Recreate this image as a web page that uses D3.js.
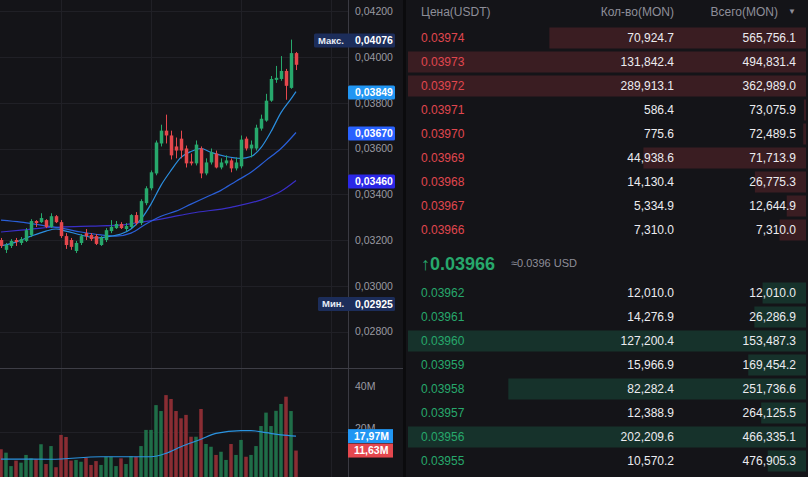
<!DOCTYPE html>
<html>
<head>
<meta charset="utf-8">
<script src="https://cdn.jsdelivr.net/npm/d3@7"></script>
<style>
  body { margin: 0; background: #141418; }
  svg { display: block; font-family: "Liberation Sans", Arial, sans-serif; }
</style>
</head>
<body>
<svg width="808" height="477"></svg>
<script>
// candles (oldest -> newest)
var opens  = [0.03200,0.03157,0.03174,0.03200,0.03187,0.03196,0.03222,0.03283,0.03278,0.03287,0.03257,0.03304,0.03278,0.03217,0.03200,0.03152,0.03187,0.03230,0.03222,0.03217,0.03178,0.03200,0.03239,0.03252,0.03270,0.03248,0.03257,0.03309,0.03274,0.03361,0.03426,0.03491,0.03622,0.03678,0.03657,0.03609,0.03643,0.03600,0.03543,0.03535,0.03600,0.03491,0.03539,0.03578,0.03517,0.03535,0.03548,0.03513,0.03522,0.03643,0.03600,0.03600,0.03687,0.03722,0.03809,0.03900,0.03904,0.03939,0.03865,0.04017];
var highs  = [0.03209,0.03187,0.03204,0.03209,0.03213,0.03252,0.03291,0.03287,0.03317,0.03291,0.03317,0.03309,0.03287,0.03230,0.03209,0.03196,0.03226,0.03248,0.03230,0.03226,0.03217,0.03252,0.03287,0.03283,0.03278,0.03274,0.03313,0.03322,0.03378,0.03435,0.03504,0.03635,0.03704,0.03748,0.03678,0.03648,0.03678,0.03613,0.03578,0.03635,0.03609,0.03557,0.03600,0.03591,0.03557,0.03570,0.03557,0.03561,0.03657,0.03652,0.03635,0.03704,0.03748,0.03839,0.03917,0.03961,0.04004,0.03948,0.04076,0.04022];
var lows   = [0.03165,0.03143,0.03165,0.03174,0.03178,0.03191,0.03213,0.03257,0.03274,0.03252,0.03252,0.03274,0.03209,0.03161,0.03157,0.03143,0.03178,0.03200,0.03196,0.03178,0.03174,0.03191,0.03230,0.03248,0.03248,0.03239,0.03252,0.03265,0.03265,0.03352,0.03417,0.03483,0.03609,0.03622,0.03552,0.03557,0.03557,0.03517,0.03526,0.03526,0.03470,0.03483,0.03530,0.03513,0.03509,0.03526,0.03496,0.03504,0.03513,0.03591,0.03561,0.03591,0.03678,0.03717,0.03804,0.03887,0.03896,0.03813,0.03861,0.03943];
var closes = [0.03174,0.03178,0.03196,0.03191,0.03204,0.03243,0.03283,0.03274,0.03296,0.03257,0.03304,0.03278,0.03217,0.03178,0.03170,0.03187,0.03217,0.03217,0.03204,0.03183,0.03209,0.03243,0.03257,0.03270,0.03252,0.03261,0.03309,0.03274,0.03370,0.03426,0.03496,0.03626,0.03678,0.03657,0.03570,0.03591,0.03591,0.03535,0.03535,0.03617,0.03491,0.03539,0.03583,0.03517,0.03539,0.03548,0.03513,0.03539,0.03639,0.03600,0.03617,0.03691,0.03730,0.03809,0.03904,0.03909,0.03939,0.03874,0.04017,0.03966];
// volume, millions
var volumes = [12.2,10.7,4.8,7.2,6.3,9.7,8.2,7.8,14.4,5.7,13.6,4.3,18.5,17.6,7.2,7.5,6.7,8.5,5.3,7.0,5.3,8.9,8.9,4.8,8.2,5.7,9.2,8.9,13.6,20.7,20.7,31.6,29.0,36.0,34.3,29.0,25.8,27.3,17.7,17.7,29.9,14.5,13.3,9.7,11.1,7.5,14.5,9.7,16.3,8.9,9.7,13.6,22.4,28.3,22.4,29.1,32.1,35.3,29.0,11.63];

// moving averages (candle index, value)
var ma7Idx = [0,3,6,9,11,13,16,19,22,24,26,28,30,32,34,36,38,40,42,45,48,50,52,54,56,58,59];
var ma7Val = [0.03174,0.03191,0.03217,0.03239,0.03248,0.03239,0.03222,0.03209,0.03217,0.03226,0.03248,0.03291,0.03357,0.03439,0.03504,0.03561,0.03587,0.03600,0.03583,0.03565,0.03557,0.03565,0.03604,0.03674,0.03757,0.03817,0.03849];
var ma25Idx = [0,4,8,12,16,20,23,26,29,32,35,38,41,44,47,50,53,56,59];
var ma25Val = [0.03287,0.03278,0.03265,0.03252,0.03235,0.03222,0.03217,0.03230,0.03270,0.03304,0.03326,0.03357,0.03387,0.03417,0.03457,0.03496,0.03548,0.03600,0.03670];
var ma99Idx = [0,4,8,12,18,24,28,33,38,46,53,56,59];
var ma99Val = [0.03235,0.03243,0.03252,0.03257,0.03261,0.03265,0.03278,0.03296,0.03317,0.03343,0.03383,0.03413,0.03460];
var volMaIdx = [0,10,20,30,33,36,40,43,48,50,53,56,59];
var volMaVal = [7.9,7.8,8.9,8.9,10.4,13.3,16.6,19.2,20.4,20.4,19.5,18.5,17.97];

var priceTicks = [0.028,0.030,0.032,0.034,0.036,0.038,0.040,0.042];
var timeTicks = [12,30,48,66];
var volTicks = [20,40];
var maxPrice = 0.04076, minPrice = 0.02925;

// order book
var askPrices = [0.03974,0.03973,0.03972,0.03971,0.03970,0.03969,0.03968,0.03967,0.03966];
var askQty    = [70924.7,131842.4,289913.1,586.4,775.6,44938.6,14130.4,5334.9,7310.0];
var askTotal  = [565756.1,494831.4,362989.0,73075.9,72489.5,71713.9,26775.3,12644.9,7310.0];
var bidPrices = [0.03962,0.03961,0.03960,0.03959,0.03958,0.03957,0.03956,0.03955];
var bidQty    = [12010.0,14276.9,127200.4,15966.9,82282.4,12388.9,202209.6,10570.2];
var bidTotal  = [12010.0,26286.9,153487.3,169454.2,251736.6,264125.5,466335.1,476905.3];
var lastPrice = 0.03966, lastUsd = 0.0396;

var upC = "#27a86c", downC = "#e5484d";
var upVol = "#1f6e48", downVol = "#8a2d33";
var grid = "#202026", textGray = "#9a9aa2";

var svg = d3.select("svg");
svg.append("rect").attr("width", 808).attr("height", 477).attr("fill", "#141418");

var ru = d3.formatLocale({decimal: ",", thousands: " ", grouping: [3], currency: ["", ""]});
var fmtAxis = ru.format(".5f");
var fmtVol = ru.format(".2f");
var fmtQty = d3.format(",.1f");
var fmtPrice = d3.format(".5f");

// scales
var x = d3.scaleLinear().domain([0, 66]).range([1, 331]);
var y = d3.scaleLinear().domain([0.032, 0.040]).range([240, 57]);
var yv = d3.scaleLinear().domain([0, 40]).range([477, 386]);

// grid
var chart = svg.append("g");
chart.selectAll(".hg").data(priceTicks).enter().append("line")
  .attr("x1", 0).attr("x2", 348)
  .attr("y1", function(d){ return Math.round(y(d)) + 0.5; })
  .attr("y2", function(d){ return Math.round(y(d)) + 0.5; })
  .attr("stroke", grid);
chart.append("line").attr("x1", 0).attr("x2", 348)
  .attr("y1", Math.round(yv(20)) + 0.5).attr("y2", Math.round(yv(20)) + 0.5).attr("stroke", grid);
chart.selectAll(".vg").data(timeTicks).enter().append("line")
  .attr("x1", function(d){ return Math.round(x(d)) + 0.5; })
  .attr("x2", function(d){ return Math.round(x(d)) + 0.5; })
  .attr("y1", 0).attr("y2", 477).attr("stroke", grid);

// volume bars
var idx = d3.range(opens.length);
chart.selectAll(".vol").data(idx).enter().append("rect")
  .attr("x", function(i){ return x(i) - 1.75; })
  .attr("width", 3.5)
  .attr("y", function(i){ return yv(volumes[i]); })
  .attr("height", function(i){ return yv(0) - yv(volumes[i]); })
  .attr("fill", function(i){ return closes[i] >= opens[i] ? upVol : downVol; });

// volume MA
chart.append("path")
  .datum(volMaIdx.map(function(d, k){ return [d, volMaVal[k]]; }))
  .attr("fill", "none").attr("stroke", "#2a93e0").attr("stroke-width", 1.2)
  .attr("d", d3.line().x(function(d){ return x(d[0]); }).y(function(d){ return yv(d[1]); }).curve(d3.curveMonotoneX));

// price MAs
var maLine = d3.line().x(function(d){ return x(d[0]); }).y(function(d){ return y(d[1]); }).curve(d3.curveMonotoneX);
[[ma99Idx, ma99Val, "#3a2fc8"], [ma25Idx, ma25Val, "#2a5fd8"], [ma7Idx, ma7Val, "#2b8fe0"]].forEach(function(m){
  chart.append("path")
    .datum(m[0].map(function(d, k){ return [d, m[1][k]]; }))
    .attr("fill", "none").attr("stroke", m[2]).attr("stroke-width", 1.2)
    .attr("d", maLine);
});

// candles
var candle = chart.selectAll(".c").data(idx).enter().append("g");
candle.append("line")
  .attr("x1", function(i){ return Math.round(x(i)) + 0.5; })
  .attr("x2", function(i){ return Math.round(x(i)) + 0.5; })
  .attr("y1", function(i){ return y(highs[i]); })
  .attr("y2", function(i){ return y(lows[i]); })
  .attr("stroke", function(i){ return closes[i] >= opens[i] ? upC : downC; });
candle.append("rect")
  .attr("x", function(i){ return Math.round(x(i)) + 0.5 - 1.75; })
  .attr("width", 3.5)
  .attr("y", function(i){ return y(Math.max(opens[i], closes[i])); })
  .attr("height", function(i){ return Math.max(1, Math.abs(y(opens[i]) - y(closes[i]))); })
  .attr("fill", function(i){ return closes[i] >= opens[i] ? upC : downC; });

// axis border and pane separator
chart.append("line").attr("x1", 348.5).attr("x2", 348.5).attr("y1", 0).attr("y2", 477).attr("stroke", "#3a3a42");
chart.append("line").attr("x1", 0).attr("x2", 403).attr("y1", 368.5).attr("y2", 368.5).attr("stroke", "#3e3e46");

// price axis
var yAxis = d3.axisRight(y).tickValues(priceTicks).tickSize(0).tickPadding(7).tickFormat(fmtAxis);
var ga = svg.append("g").attr("transform", "translate(348,0)").call(yAxis);
ga.select(".domain").remove();
ga.selectAll("text").attr("fill", textGray).attr("font-size", 10.5).attr("font-family", "Liberation Sans, Arial, sans-serif");

// volume axis: the 20M label sits mostly under the MA tag, as in the source
var vAxis = d3.axisRight(yv).tickValues(volTicks).tickSize(0).tickPadding(7).tickFormat(function(d){ return d + "M"; });
var gv = svg.append("g").attr("transform", "translate(348,0)").call(vAxis);
gv.select(".domain").remove();
gv.selectAll("text").attr("fill", textGray).attr("font-size", 10.5).attr("font-family", "Liberation Sans, Arial, sans-serif");
gv.selectAll(".tick").filter(function(d){ return d === 20; }).attr("transform", "translate(0," + (yv(20) - 3) + ")");

// value tags on axis
function tag(yy, x0, bg, label, value){
  svg.append("rect").attr("x", x0).attr("y", yy - 7).attr("width", 395 - x0).attr("height", 14).attr("rx", 1.5).attr("fill", bg);
  if (label) svg.append("text").attr("x", x0 + 4).attr("y", yy).attr("dy", "0.35em")
    .attr("fill", "#e8ecf5").attr("font-size", 9.5).attr("font-weight", 700).text(label);
  svg.append("text").attr("x", 355).attr("y", yy).attr("dy", "0.35em")
    .attr("fill", "#ffffff").attr("font-size", 10.5).attr("font-weight", 700).text(value);
}
tag(y(maxPrice) + 1, 314, "#1c2d5a", "Макс.", fmtAxis(maxPrice));
tag(y(ma7Val[ma7Val.length - 1]) + 1, 348, "#2196f3", null, fmtAxis(ma7Val[ma7Val.length - 1]));
tag(y(ma25Val[ma25Val.length - 1]) + 1, 348, "#2962ff", null, fmtAxis(ma25Val[ma25Val.length - 1]));
tag(y(ma99Val[ma99Val.length - 1]) + 1, 348, "#2b27e6", null, fmtAxis(ma99Val[ma99Val.length - 1]));
tag(y(minPrice) + 1, 318, "#1c2d5a", "Мин.", fmtAxis(minPrice));
var volTagW = 393;
svg.append("rect").attr("x", 348).attr("y", yv(volMaVal[volMaVal.length - 1]) - 7).attr("width", volTagW - 348).attr("height", 14).attr("fill", "#2196f3");
svg.append("text").attr("x", 354).attr("y", yv(volMaVal[volMaVal.length - 1])).attr("dy", "0.35em")
  .attr("fill", "#fff").attr("font-size", 10.5).attr("font-weight", 700).text(fmtVol(volMaVal[volMaVal.length - 1]) + "M");
svg.append("rect").attr("x", 348).attr("y", yv(volumes[volumes.length - 1]) - 7).attr("width", volTagW - 348).attr("height", 14).attr("fill", "#e5474e");
svg.append("text").attr("x", 354).attr("y", yv(volumes[volumes.length - 1])).attr("dy", "0.35em")
  .attr("fill", "#fff").attr("font-size", 10.5).attr("font-weight", 700).text(fmtVol(volumes[volumes.length - 1]) + "M");

// divider between chart and book
svg.append("rect").attr("x", 403).attr("y", 0).attr("width", 3).attr("height", 477).attr("fill", "#0b0b0d");

// order book
var book = svg.append("g");
var depth = d3.scaleLinear().domain([0, 110000]).range([0, 398]).clamp(true);
var rowH = 24;

book.append("text").attr("x", 421).attr("y", 12).attr("dy", "0.35em").attr("fill", "#8e8e98").attr("font-size", 12).text("Цена(USDT)");
book.append("text").attr("x", 674).attr("y", 12).attr("dy", "0.35em").attr("text-anchor", "end").attr("fill", "#8e8e98").attr("font-size", 12).text("Кол-во(MON)");
book.append("text").attr("x", 778).attr("y", 12).attr("dy", "0.35em").attr("text-anchor", "end").attr("fill", "#8e8e98").attr("font-size", 12).text("Всего(MON)");
book.append("text").attr("x", 792).attr("y", 11).attr("dy", "0.35em").attr("text-anchor", "middle").attr("fill", "#8e8e98").attr("font-size", 8).text("▼");

function rows(prices, qty, total, top, bar, col){
  var g = book.selectAll(null).data(d3.range(prices.length)).enter().append("g")
    .attr("transform", function(i){ return "translate(0," + (top + i * rowH) + ")"; });
  g.append("rect")
    .attr("x", function(i){ return 806 - depth(qty[i]); })
    .attr("y", -10.5).attr("height", 21)
    .attr("width", function(i){ return depth(qty[i]); })
    .attr("fill", bar);
  g.append("text").attr("x", 421).attr("dy", "0.35em").attr("fill", col).attr("font-size", 12)
    .text(function(i){ return fmtPrice(prices[i]); });
  g.append("text").attr("x", 674).attr("dy", "0.35em").attr("text-anchor", "end").attr("fill", "#ececf0").attr("font-size", 12)
    .text(function(i){ return fmtQty(qty[i]); });
  g.append("text").attr("x", 796).attr("dy", "0.35em").attr("text-anchor", "end").attr("fill", "#ececf0").attr("font-size", 12)
    .text(function(i){ return fmtQty(total[i]); });
}
rows(askPrices, askQty, askTotal, 38, "#3a1d22", "#e0474f");
rows(bidPrices, bidQty, bidTotal, 293, "#16322b", "#27a86c");

book.append("text").attr("x", 421).attr("y", 264).attr("dy", "0.35em").attr("fill", "#27a86c").attr("font-size", 18).attr("font-weight", 600)
  .text("↑" + fmtPrice(lastPrice));
book.append("text").attr("x", 511).attr("y", 263).attr("dy", "0.35em").attr("fill", "#8e8e98").attr("font-size", 11)
  .text("≈" + lastUsd.toFixed(4) + " USD");
</script>
</body>
</html>
